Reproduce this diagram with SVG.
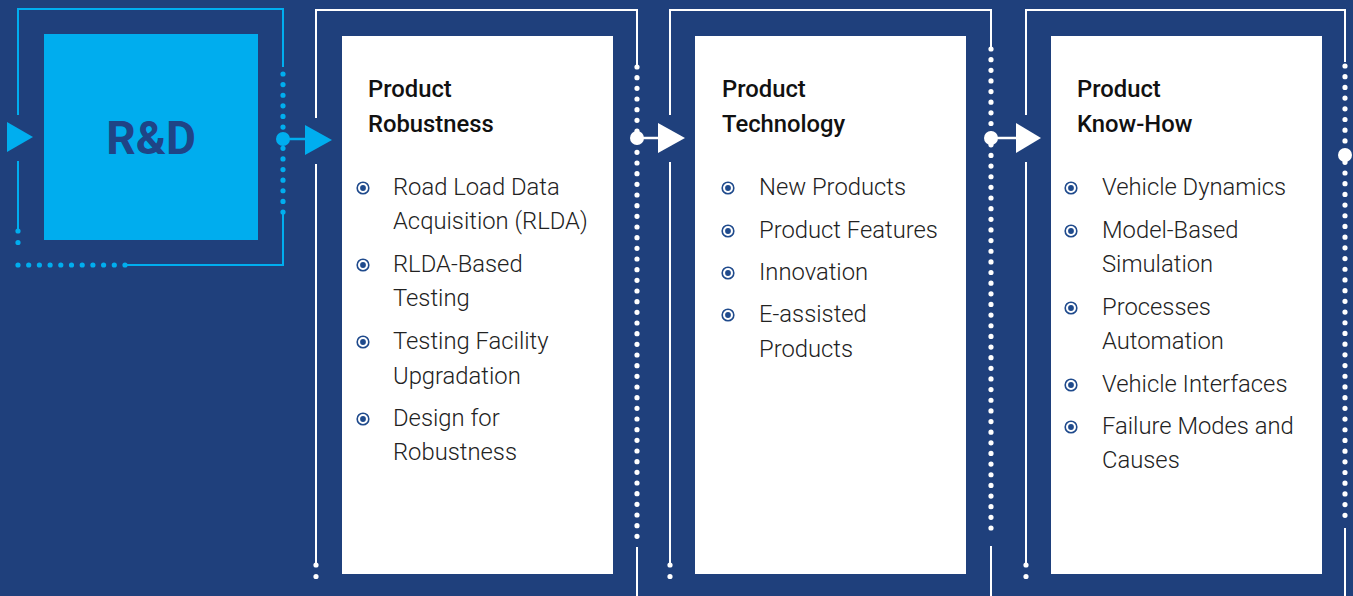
<svg xmlns="http://www.w3.org/2000/svg" width="1353" height="596" viewBox="0 0 1353 596">
<defs>
<style>
.bg{fill:#1f407c}
.card{fill:#ffffff}
.wl{stroke:#ffffff;stroke-width:2;fill:none}
.wd{stroke:#ffffff;stroke-width:5.2;stroke-linecap:round;fill:none}
.bl{stroke:#00aeef;stroke-width:2;fill:none}
.bd{stroke:#00aeef;stroke-width:5.2;stroke-linecap:round;fill:none}
.h{font-family:Roboto,"Liberation Sans",sans-serif;font-size:23.8px;font-weight:500;fill:#111111}
.t{font-family:Roboto,"Liberation Sans",sans-serif;font-size:23.8px;font-weight:300;fill:#222222}
.rd{font-family:Roboto,"Liberation Sans",sans-serif;font-size:46px;font-weight:700;fill:#1f4486}
</style>
<g id="bullet">
<circle r="5.8" fill="none" stroke="#1f4a8c" stroke-width="1.6"/>
<circle r="2.9" fill="#1f4a8c"/>
</g>
</defs>
<rect class="bg" x="0" y="0" width="1353" height="596"/>

<g id="node-rd">
<rect x="44" y="34" width="214" height="206" fill="#00adee"/>
<text class="rd" x="151" y="154" text-anchor="middle">R&amp;D</text>
<path class="bl" d="M18 115 V9 H283 V67"/>
<path class="bl" d="M18 161 V231"/>
<path class="bl" d="M283 212 V265 H125"/>
<path class="bd" d="M283 74 V212" stroke-dasharray="0 10.615"/>
<path class="bd" d="M18 231 V254" stroke-dasharray="0 11.5"/>
<path class="bd" d="M18 265 H125" stroke-dasharray="0 10.7"/>
</g>

<g id="node-robustness">
<path class="wl" d="M316 118 V10 H637 V67"/>
<path class="wl" d="M316 164 V565"/>
<path class="wl" d="M637 547 V596"/>
<path class="wd" d="M637 67 V547" stroke-dasharray="0 10.667"/>
<path class="wd" d="M316 565 V588" stroke-dasharray="0 11.5"/>
<rect class="card" x="342" y="36" width="271" height="538"/>
<text class="h" x="368" y="97">Product</text>
<text class="h" x="368" y="132">Robustness</text>
<use href="#bullet" x="363" y="188"/>
<text class="t" x="393" y="195">Road Load Data</text>
<text class="t" x="393" y="229">Acquisition (RLDA)</text>
<use href="#bullet" x="363" y="265"/>
<text class="t" x="393" y="272">RLDA-Based</text>
<text class="t" x="393" y="306">Testing</text>
<use href="#bullet" x="363" y="342"/>
<text class="t" x="393" y="349">Testing Facility</text>
<text class="t" x="393" y="384">Upgradation</text>
<use href="#bullet" x="363" y="419"/>
<text class="t" x="393" y="426">Design for</text>
<text class="t" x="393" y="460">Robustness</text>
</g>

<g id="node-technology">
<path class="wl" d="M670 115 V10 H991 V48"/>
<path class="wl" d="M670 162 V565"/>
<path class="wl" d="M991 546 V596"/>
<path class="wd" d="M991 49 V528" stroke-dasharray="0 10.644"/>
<path class="wd" d="M670 565 V588" stroke-dasharray="0 11.5"/>
<rect class="card" x="695" y="36" width="271" height="538"/>
<text class="h" x="722" y="97">Product</text>
<text class="h" x="722" y="132">Technology</text>
<use href="#bullet" x="728" y="188"/>
<text class="t" x="759" y="195">New Products</text>
<use href="#bullet" x="728" y="231"/>
<text class="t" x="759" y="238">Product Features</text>
<use href="#bullet" x="728" y="273"/>
<text class="t" x="759" y="280">Innovation</text>
<use href="#bullet" x="728" y="315"/>
<text class="t" x="759" y="322">E-assisted</text>
<text class="t" x="759" y="357">Products</text>
</g>

<g id="node-knowhow">
<path class="wl" d="M1026 115 V10 H1345 V62"/>
<path class="wl" d="M1026 162 V565"/>
<path class="wl" d="M1345 528 V596"/>
<path class="wd" d="M1345 66 V526" stroke-dasharray="0 10.698"/>
<path class="wd" d="M1026 565 V588" stroke-dasharray="0 11.5"/>
<rect class="card" x="1051" y="36" width="271" height="538"/>
<text class="h" x="1077" y="97">Product</text>
<text class="h" x="1077" y="132">Know-How</text>
<use href="#bullet" x="1071" y="188"/>
<text class="t" x="1102" y="195">Vehicle Dynamics</text>
<use href="#bullet" x="1071" y="231"/>
<text class="t" x="1102" y="238">Model-Based</text>
<text class="t" x="1102" y="272">Simulation</text>
<use href="#bullet" x="1071" y="308"/>
<text class="t" x="1102" y="315">Processes</text>
<text class="t" x="1102" y="349">Automation</text>
<use href="#bullet" x="1071" y="385"/>
<text class="t" x="1102" y="392">Vehicle Interfaces</text>
<use href="#bullet" x="1071" y="427"/>
<text class="t" x="1102" y="434">Failure Modes and</text>
<text class="t" x="1102" y="468">Causes</text>
</g>

<g id="connectors">
<polygon points="7,122 33,137 7,152" fill="#00aeef"/>
<circle cx="283" cy="139" r="7" fill="#00aeef"/>
<line x1="283" y1="139" x2="307" y2="139" stroke="#00aeef" stroke-width="2.5"/>
<polygon points="305,125 332,140 305,155" fill="#00aeef"/>
<circle cx="637" cy="138" r="7" fill="#ffffff"/>
<line x1="637" y1="138" x2="660" y2="138" stroke="#ffffff" stroke-width="2.5"/>
<polygon points="658,123 685,138 658,153" fill="#ffffff"/>
<circle cx="991" cy="138" r="7" fill="#ffffff"/>
<line x1="991" y1="138" x2="1017" y2="138" stroke="#ffffff" stroke-width="2.5"/>
<polygon points="1016,123 1041,138 1016,153" fill="#ffffff"/>
<circle cx="1345" cy="155" r="7" fill="#ffffff"/>
</g>
</svg>
